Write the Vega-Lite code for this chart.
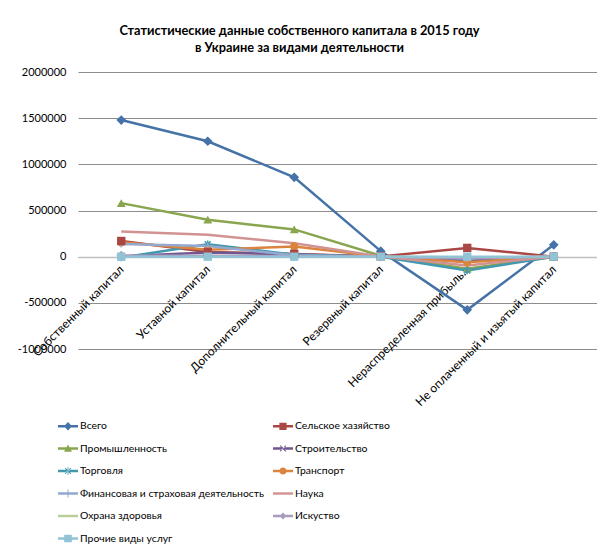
{
  "$schema": "https://vega.github.io/schema/vega-lite/v6.json",
  "autosize": "none",
  "width": 519,
  "height": 277,
  "padding": {"left": 78, "top": 72, "right": 0, "bottom": 205},
  "background": "white",
  "config": {
    "font": "Lato",
    "view": {"stroke": null},
    "axis": {"labelFont": "Lato", "labelColor": "#000000", "labelFontSize": 11},
    "legend": {"labelFont": "Lato", "labelColor": "#000000", "labelFontSize": 10.4}
  },
  "title": {
    "text": ["Статистические данные собственного капитала в 2015 году", "в Украине за видами деятельности"],
    "font": "Lato",
    "fontSize": 12.8,
    "fontWeight": "bold",
    "color": "#000000",
    "lineHeight": 17,
    "anchor": "middle",
    "dx": -38,
    "offset": 11
  },
  "data": {
    "values": [
      {"cat": "Собственный капитал", "series": "Всего", "value": 1480000},
      {"cat": "Уставной капитал", "series": "Всего", "value": 1250000},
      {"cat": "Дополнительный капитал", "series": "Всего", "value": 860000},
      {"cat": "Резервный капитал", "series": "Всего", "value": 60000},
      {"cat": "Нераспределенная прибыль...", "series": "Всего", "value": -576000},
      {"cat": "Не оплаченный и изьятый капитал", "series": "Всего", "value": 128000},
      {"cat": "Собственный капитал", "series": "Сельское хазяйство", "value": 170000},
      {"cat": "Уставной капитал", "series": "Сельское хазяйство", "value": 50000},
      {"cat": "Дополнительный капитал", "series": "Сельское хазяйство", "value": 30000},
      {"cat": "Резервный капитал", "series": "Сельское хазяйство", "value": 3000},
      {"cat": "Нераспределенная прибыль...", "series": "Сельское хазяйство", "value": 95000},
      {"cat": "Не оплаченный и изьятый капитал", "series": "Сельское хазяйство", "value": 0},
      {"cat": "Собственный капитал", "series": "Промышленность", "value": 580000},
      {"cat": "Уставной капитал", "series": "Промышленность", "value": 400000},
      {"cat": "Дополнительный капитал", "series": "Промышленность", "value": 295000},
      {"cat": "Резервный капитал", "series": "Промышленность", "value": 10000},
      {"cat": "Нераспределенная прибыль...", "series": "Промышленность", "value": -130000},
      {"cat": "Не оплаченный и изьятый капитал", "series": "Промышленность", "value": 0},
      {"cat": "Собственный капитал", "series": "Строительство", "value": 5000},
      {"cat": "Уставной капитал", "series": "Строительство", "value": 45000},
      {"cat": "Дополнительный капитал", "series": "Строительство", "value": 25000},
      {"cat": "Резервный капитал", "series": "Строительство", "value": 0},
      {"cat": "Нераспределенная прибыль...", "series": "Строительство", "value": -45000},
      {"cat": "Не оплаченный и изьятый капитал", "series": "Строительство", "value": 0},
      {"cat": "Собственный капитал", "series": "Торговля", "value": -10000},
      {"cat": "Уставной капитал", "series": "Торговля", "value": 135000},
      {"cat": "Дополнительный капитал", "series": "Торговля", "value": 20000},
      {"cat": "Резервный капитал", "series": "Торговля", "value": 0},
      {"cat": "Нераспределенная прибыль...", "series": "Торговля", "value": -150000},
      {"cat": "Не оплаченный и изьятый капитал", "series": "Торговля", "value": 0},
      {"cat": "Собственный капитал", "series": "Транспорт", "value": 155000},
      {"cat": "Уставной капитал", "series": "Транспорт", "value": 76000},
      {"cat": "Дополнительный капитал", "series": "Транспорт", "value": 110000},
      {"cat": "Резервный капитал", "series": "Транспорт", "value": 2000},
      {"cat": "Нераспределенная прибыль...", "series": "Транспорт", "value": -60000},
      {"cat": "Не оплаченный и изьятый капитал", "series": "Транспорт", "value": 0},
      {"cat": "Собственный капитал", "series": "Финансовая и страховая деятельность", "value": 138000},
      {"cat": "Уставной капитал", "series": "Финансовая и страховая деятельность", "value": 115000},
      {"cat": "Дополнительный капитал", "series": "Финансовая и страховая деятельность", "value": 15000},
      {"cat": "Резервный капитал", "series": "Финансовая и страховая деятельность", "value": 0},
      {"cat": "Нераспределенная прибыль...", "series": "Финансовая и страховая деятельность", "value": -20000},
      {"cat": "Не оплаченный и изьятый капитал", "series": "Финансовая и страховая деятельность", "value": 0},
      {"cat": "Собственный капитал", "series": "Наука", "value": 272000},
      {"cat": "Уставной капитал", "series": "Наука", "value": 238000},
      {"cat": "Дополнительный капитал", "series": "Наука", "value": 145000},
      {"cat": "Резервный капитал", "series": "Наука", "value": 2000},
      {"cat": "Нераспределенная прибыль...", "series": "Наука", "value": -95000},
      {"cat": "Не оплаченный и изьятый капитал", "series": "Наука", "value": 0},
      {"cat": "Собственный капитал", "series": "Охрана здоровья", "value": 5000},
      {"cat": "Уставной капитал", "series": "Охрана здоровья", "value": 5000},
      {"cat": "Дополнительный капитал", "series": "Охрана здоровья", "value": 3000},
      {"cat": "Резервный капитал", "series": "Охрана здоровья", "value": 0},
      {"cat": "Нераспределенная прибыль...", "series": "Охрана здоровья", "value": -10000},
      {"cat": "Не оплаченный и изьятый капитал", "series": "Охрана здоровья", "value": 0},
      {"cat": "Собственный капитал", "series": "Искуство", "value": 10000},
      {"cat": "Уставной капитал", "series": "Искуство", "value": 10000},
      {"cat": "Дополнительный капитал", "series": "Искуство", "value": 5000},
      {"cat": "Резервный капитал", "series": "Искуство", "value": 0},
      {"cat": "Нераспределенная прибыль...", "series": "Искуство", "value": -15000},
      {"cat": "Не оплаченный и изьятый капитал", "series": "Искуство", "value": 0},
      {"cat": "Собственный капитал", "series": "Прочие виды услуг", "value": 0},
      {"cat": "Уставной капитал", "series": "Прочие виды услуг", "value": 0},
      {"cat": "Дополнительный капитал", "series": "Прочие виды услуг", "value": 0},
      {"cat": "Резервный капитал", "series": "Прочие виды услуг", "value": 0},
      {"cat": "Нераспределенная прибыль...", "series": "Прочие виды услуг", "value": 0},
      {"cat": "Не оплаченный и изьятый капитал", "series": "Прочие виды услуг", "value": 0}
    ]
  },
  "encoding": {
    "x": {
      "field": "cat",
      "type": "ordinal",
      "sort": null,
      "scale": {"type": "point", "padding": 0.5},
      "axis": {
        "title": null,
        "offset": -92,
        "labelAngle": -45,
        "labelAlign": "right",
        "labelBaseline": "middle",
        "labelPadding": 10,
        "labelFontSize": 12,
        "labelLimit": 300,
        "labelOverlap": false,
        "labelBound": false,
        "labelFlush": false,
        "ticks": false,
        "domainColor": "#BFBFBF",
        "domainWidth": 1.5,
        "grid": false
      }
    },
    "y": {
      "field": "value",
      "type": "quantitative",
      "scale": {"domain": [-1000000, 2000000], "nice": false, "zero": false},
      "axis": {
        "title": null,
        "values": [-1000000, -500000, 0, 500000, 1000000, 1500000, 2000000],
        "labelExpr": "'' + datum.value",
        "labelPadding": 12,
        "ticks": false,
        "domain": false,
        "grid": true,
        "gridColor": "#8C8C8C",
        "gridWidth": 1
      }
    },
    "color": {
      "field": "series",
      "type": "nominal",
      "sort": null,
      "scale": {
        "domain": ["Всего", "Сельское хазяйство", "Промышленность", "Строительство", "Торговля", "Транспорт", "Финансовая и страховая деятельность", "Наука", "Охрана здоровья", "Искуство", "Прочие виды услуг"],
        "range": ["#4572A7", "#AA4643", "#89A54E", "#71588F", "#4198AF", "#DB843D", "#93A9CF", "#D19392", "#B9CD96", "#A99BBD", "#91C3D5"]
      },
      "legend": {
        "title": null,
        "orient": "none",
        "legendX": -20,
        "legendY": 344,
        "columns": 2,
        "direction": "horizontal",
        "columnPadding": 9,
        "rowPadding": 6.5,
        "labelOffset": 2,
        "symbolSize": 400,
        "labelLimit": 400,
        "encode": {
          "symbols": {
            "update": {
              "shape": {"signal": "['M-1,-0.12H1V0.12H-1Z M0,-0.42L0.4,0L0,0.42L-0.4,0Z','M-1,-0.12H1V0.12H-1Z M-0.36,-0.36H0.36V0.36H-0.36Z','M-1,-0.12H1V0.12H-1Z M0,-0.4L0.4,0.32H-0.4Z','M-1,-0.12H1V0.12H-1Z M-0.32,-0.26L-0.26,-0.32L0.32,0.26L0.26,0.32Z M0.32,-0.26L0.26,-0.32L-0.32,0.26L-0.26,0.32Z','M-1,-0.12H1V0.12H-1Z M-0.32,-0.26L-0.26,-0.32L0.32,0.26L0.26,0.32Z M0.32,-0.26L0.26,-0.32L-0.32,0.26L-0.26,0.32Z M-0.04,-0.4H0.04V0.4H-0.04Z','M-1,-0.12H1V0.12H-1Z M-0.36,0A0.36,0.36 0 1,1 0.36,0A0.36,0.36 0 1,1 -0.36,0Z','M-1,-0.12H1V0.12H-1Z M-0.05,-0.4H0.05V0.4H-0.05Z','M-1,-0.12H1V0.12H-1Z','M-1,-0.12H1V0.12H-1Z','M-1,-0.12H1V0.12H-1Z M0,-0.36L0.34,0L0,0.36L-0.34,0Z','M-1,-0.12H1V0.12H-1Z M-0.38,-0.38H0.38V0.38H-0.38Z'][indexof(['Всего','Сельское хазяйство','Промышленность','Строительство','Торговля','Транспорт','Финансовая и страховая деятельность','Наука','Охрана здоровья','Искуство','Прочие виды услуг'], datum.value)]"},
              "fill": {"scale": "color", "field": "value"},
              "stroke": {"value": "transparent"},
              "strokeWidth": {"value": 0},
              "size": {"value": 400},
              "opacity": {"value": 1}
            }
          }
        }
      }
    }
  },
  "layer": [
    {
      "mark": {"type": "line", "strokeWidth": 2.5}
    },
    {
      "transform": [{"filter": {"field": "series", "oneOf": ["Всего", "Искуство"]}}],
      "mark": {"type": "point", "filled": true, "opacity": 1, "shape": "diamond", "size": 95}
    },
    {
      "transform": [{"filter": {"field": "series", "equal": "Промышленность"}}],
      "mark": {"type": "point", "filled": true, "opacity": 1, "shape": "triangle-up", "size": 80}
    },
    {
      "transform": [{"filter": {"field": "series", "equal": "Строительство"}}],
      "mark": {"type": "point", "filled": false, "opacity": 1, "strokeWidth": 1.5, "shape": "M-0.7,-0.7L0.7,0.7M-0.7,0.7L0.7,-0.7", "size": 60}
    },
    {
      "transform": [{"filter": {"field": "series", "equal": "Торговля"}}],
      "mark": {"type": "point", "filled": false, "opacity": 1, "strokeWidth": 1.5, "shape": "M-0.7,-0.7L0.7,0.7M-0.7,0.7L0.7,-0.7M0,-0.9V0.9", "size": 70}
    },
    {
      "transform": [{"filter": {"field": "series", "equal": "Транспорт"}}],
      "mark": {"type": "point", "filled": true, "opacity": 1, "shape": "circle", "size": 70}
    },
    {
      "transform": [{"filter": {"field": "series", "equal": "Финансовая и страховая деятельность"}}],
      "mark": {"type": "point", "filled": false, "opacity": 1, "strokeWidth": 1.5, "shape": "M-0.9,0H0.9M0,-0.9V0.9", "size": 60}
    },
    {
      "transform": [{"filter": {"field": "series", "oneOf": ["Сельское хазяйство", "Прочие виды услуг"]}}],
      "mark": {"type": "point", "filled": true, "opacity": 1, "shape": "square", "size": 70}
    }
  ]
}
